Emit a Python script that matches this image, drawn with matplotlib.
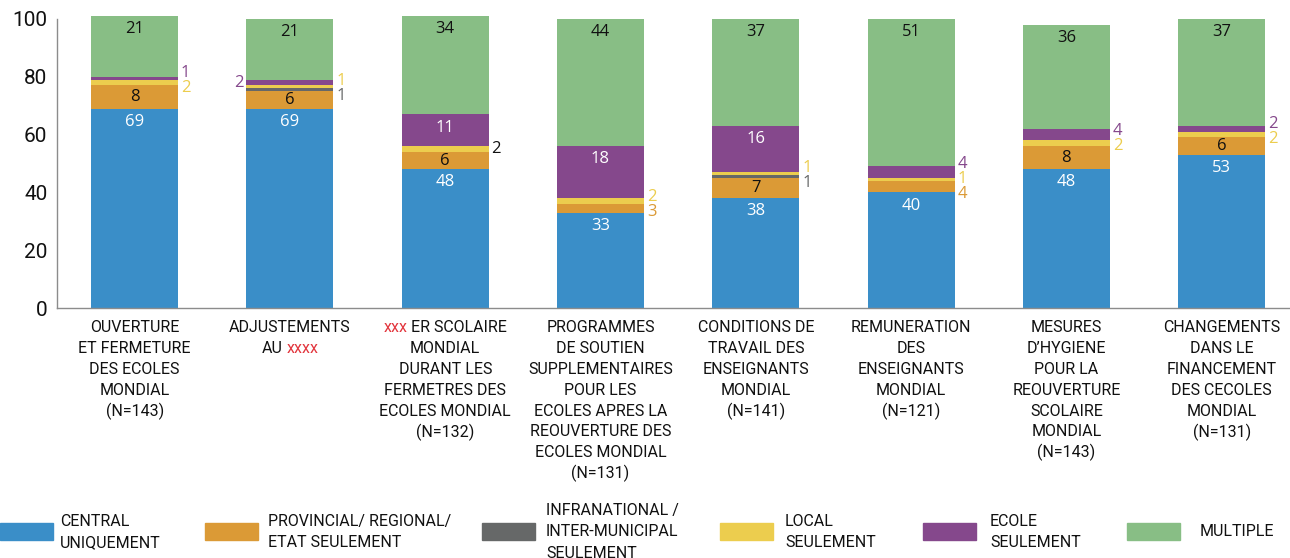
import re
import matplotlib
matplotlib.use("Agg")
import matplotlib.pyplot as plt
from matplotlib.patches import Rectangle

# categories ({...} = red placeholder text)
labels = [
    "OUVERTURE\nET FERMETURE\nDES ECOLES\nMONDIAL\n(N=143)",
    "ADJUSTEMENTS\nAU {xxxx}",
    "{xxx} ER SCOLAIRE\nMONDIAL\nDURANT LES\nFERMETRES DES\nECOLES MONDIAL\n(N=132)",
    "PROGRAMMES\nDE SOUTIEN\nSUPPLEMENTAIRES\nPOUR LES\nECOLES APRES LA\nREOUVERTURE DES\nECOLES MONDIAL\n(N=131)",
    "CONDITIONS DE\nTRAVAIL DES\nENSEIGNANTS\nMONDIAL\n(N=141)",
    "REMUNERATION\nDES\nENSEIGNANTS\nMONDIAL\n(N=121)",
    "MESURES\nD’HYGIENE\nPOUR LA\nREOUVERTURE\nSCOLAIRE\nMONDIAL\n(N=143)",
    "CHANGEMENTS\nDANS LE\nFINANCEMENT\nDES CECOLES\nMONDIAL\n(N=131)",
]

central = [69, 69, 48, 33, 38, 40, 48, 53]
provincial = [8, 6, 6, 3, 7, 4, 8, 6]
infranational = [0, 1, 0, 0, 1, 0, 0, 0]
local = [2, 1, 2, 2, 1, 1, 2, 2]
ecole = [1, 2, 11, 18, 16, 4, 4, 2]
multiple = [21, 21, 34, 44, 37, 51, 36, 37]

series_names = [
    "CENTRAL\nUNIQUEMENT",
    "PROVINCIAL/ REGIONAL/\nETAT SEULEMENT",
    "INFRANATIONAL /\nINTER-MUNICIPAL\nSEULEMENT",
    "LOCAL\nSEULEMENT",
    "ECOLE\nSEULEMENT",
    "MULTIPLE",
]
series = [central, provincial, infranational, local, ecole, multiple]

colors = ["#3a8ec8", "#db9a36", "#666868", "#eccd4e", "#85488c", "#88be85"]
inside_color = ["white", "#111111", "white", "#111111", "white", "#111111"]
top_anchor = [True, False, False, False, True, True]
left_side = {(1, 4)}        # label drawn on the left of the bar
black_out = {(2, 3)}        # outside label drawn in black
RED = "#e2353d"
TXT = "#111111"

LABEL_FONT = ["Roboto", "DejaVu Sans"]
VALUE_FONT = ["Open Sans", "DejaVu Sans"]

W, H = 1290, 558
fig = plt.figure(figsize=(W / 100, H / 100), dpi=100)
ax = fig.add_axes([57 / W, 1 - 308 / H, 1 - 57 / W, (308 - 19) / H])

n = len(labels)
xs = list(range(n))
bar_w = 0.56
bottoms = [0] * n
for k, vals in enumerate(series):
    ax.bar(xs, vals, bar_w, bottom=bottoms, color=colors[k],
           linewidth=0, clip_on=False)
    bottoms = [b + v for b, v in zip(bottoms, vals)]

ax.set_xlim(-0.5, 7.44)
ax.set_ylim(0, 100)
ax.set_xticks([])
ax.set_yticks(range(0, 101, 20))
ax.tick_params(axis="y", length=0, pad=7, labelsize=15, labelcolor=TXT)
for t in ax.get_yticklabels():
    t.set_family(LABEL_FONT)
for s in ["top", "right"]:
    ax.spines[s].set_visible(False)
for s in ["left", "bottom"]:
    ax.spines[s].set_color("#8c8c8c")
    ax.spines[s].set_linewidth(1)

# value labels
px_per_unit = ax.get_window_extent().height / 100
gap = 15 / px_per_unit
for i in xs:
    base = 0
    outside = {"L": [], "R": []}
    for k, vals in enumerate(series):
        v = vals[i]
        if v == 0:
            continue
        top = base + v
        if v >= 5:
            if top_anchor[k]:
                ax.annotate(str(v), (i, top), xytext=(0, -9.5),
                            textcoords="offset points", ha="center", va="center",
                            color=inside_color[k], fontsize=12, family=VALUE_FONT,
                            annotation_clip=False)
            else:
                ax.text(i, base + v / 2, str(v), ha="center", va="center",
                        color=inside_color[k], fontsize=12, family=VALUE_FONT)
        else:
            side = "L" if (i, k) in left_side else "R"
            outside[side].append((base + v / 2, k, v))
        base = top
    for side, items in outside.items():
        items.sort(reverse=True)
        m = len(items)
        if m == 0:
            continue
        mean = sum(c for c, _, _ in items) / m
        for j, (c, k, v) in enumerate(items):
            y = mean + gap * ((m - 1) / 2 - j) if m > 1 else c
            col = TXT if (i, k) in black_out else colors[k]
            if side == "R":
                ax.annotate(str(v), (i + bar_w / 2, y), xytext=(2, 0),
                            textcoords="offset points", ha="left", va="center",
                            color=col, fontsize=12, family=VALUE_FONT,
                            annotation_clip=False)
            else:
                ax.annotate(str(v), (i - bar_w / 2, y), xytext=(-2, 0),
                            textcoords="offset points", ha="right", va="center",
                            color=col, fontsize=12, family=VALUE_FONT,
                            annotation_clip=False)

renderer = fig.canvas.get_renderer()


def text_w(s, size):
    t = fig.text(0, 0, s, fontsize=size, family=LABEL_FONT)
    w = t.get_window_extent(renderer).width
    t.remove()
    return w


def draw_line(x_px, y_px, line, size, ha="center"):
    parts = []
    for p in re.split(r"(\{[^}]*\})", line):
        if not p:
            continue
        if p.startswith("{"):
            parts.append((p[1:-1], RED))
        else:
            parts.append((p, TXT))
    sp = text_w("x x", size) - text_w("xx", size)
    widths = []
    for p, _ in parts:
        lead = len(p) - len(p.lstrip(" "))
        trail = len(p) - len(p.rstrip(" "))
        widths.append((lead, text_w(p.strip(), size), trail))
    total = sum(l * sp + w + t * sp for l, w, t in widths)
    x = x_px - total / 2 if ha == "center" else x_px
    for (p, col), (l, w, t) in zip(parts, widths):
        x += l * sp
        fig.text(x / W, 1 - y_px / H, p.strip(), ha="left", va="center",
                 color=col, fontsize=size, family=LABEL_FONT)
        x += w + t * sp


# category labels
for i, lab in enumerate(labels):
    xc = ax.transData.transform((i, 0))[0]
    for j, line in enumerate(lab.split("\n")):
        draw_line(xc, 328 + j * 20.8, line, 11.5)

# legend
leg_x = [0, 205, 482, 720, 923, 1127]
leg_tx = [60, 268, 546, 785, 990, 1200]
for k, name in enumerate(series_names):
    fig.patches.append(Rectangle((leg_x[k] / W, 1 - 540 / H), 53 / W, 17 / H,
                                 transform=fig.transFigure, color=colors[k]))
    lines = name.split("\n")
    y0 = 532 - (len(lines) - 1) * 21 / 2
    for j, line in enumerate(lines):
        draw_line(leg_tx[k], y0 + j * 21, line, 11.5, ha="left")

fig.savefig("out.png", dpi=100)
